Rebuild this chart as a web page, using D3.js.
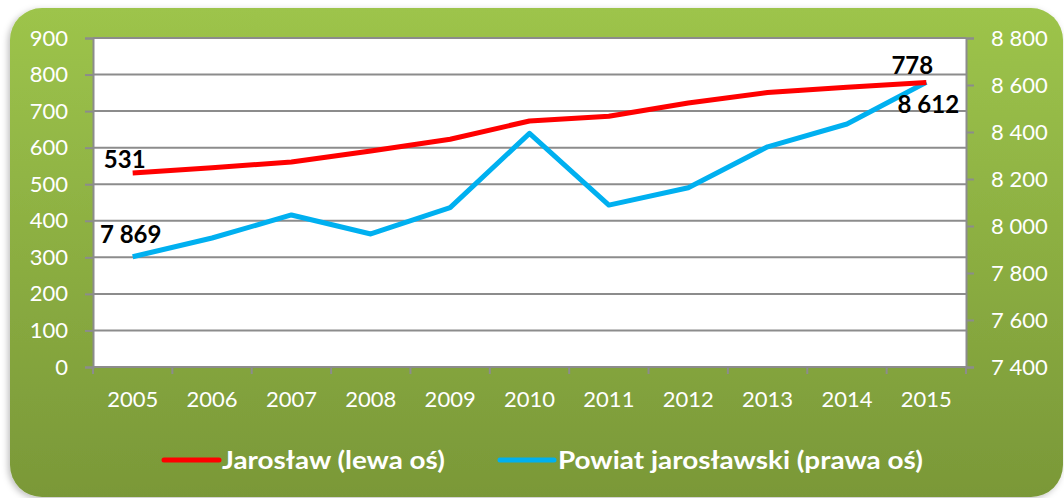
<!DOCTYPE html>
<html><head><meta charset="utf-8">
<script src="https://cdn.jsdelivr.net/npm/d3@7"></script>
<style>html,body{margin:0;padding:0;background:#fff;}svg{display:block;}</style>
</head><body>
<svg id="c" width="1064" height="498"></svg>
<script>
const years = ["2005","2006","2007","2008","2009","2010","2011","2012","2013","2014","2015"];
const jaroslaw = [531,545,561,591,623,673,686,722,751,765,778];
const powiat = [7869,7949,8047,7966,8078,8394,8089,8163,8337,8434,8612];
const leftTicks = [0,100,200,300,400,500,600,700,800,900];
const rightTicks = [7400,7600,7800,8000,8200,8400,8600,8800];
const seriesNames = ["Jarosław (lewa oś)","Powiat jarosławski (prawa oś)"];
const colors = ["#FF0000","#00B0F0"];

const svg = d3.select("#c");
const font = "Lato, 'Open Sans', sans-serif";
const defs = svg.append("defs");
const g = defs.append("linearGradient").attr("id","bg").attr("x1",0).attr("y1",0).attr("x2",0).attr("y2",1);
g.append("stop").attr("offset","0%").attr("stop-color","#9DC44B");
g.append("stop").attr("offset","100%").attr("stop-color","#7A9838");
const f = defs.append("filter").attr("id","sh").attr("x","-5%").attr("y","-5%").attr("width","110%").attr("height","110%");
f.append("feDropShadow").attr("dx",-2).attr("dy",2).attr("stdDeviation",3).attr("flood-color","#000").attr("flood-opacity",0.25);

svg.append("rect").attr("x",10).attr("y",8).attr("width",1053).attr("height",489).attr("rx",32).attr("ry",32)
  .attr("fill","url(#bg)").attr("filter","url(#sh)");

const L=93,R=966,T=38,B=367;
const x = d3.scaleBand().domain(years).range([L,R]);
const yL = d3.scaleLinear().domain([0,900]).range([B,T]);
const yR = d3.scaleLinear().domain([7400,8800]).range([B,T]);

svg.append("rect").attr("x",L).attr("y",T).attr("width",R-L).attr("height",B-T).attr("fill","#fff");

const gridC = "#8C8C8C";
svg.append("g").selectAll("line").data(leftTicks).join("line")
  .attr("x1",L).attr("x2",R).attr("y1",d=>yL(d)).attr("y2",d=>yL(d))
  .attr("stroke",gridC).attr("stroke-width",2);

const axL = svg.append("g").attr("transform",`translate(${L},0)`)
  .call(d3.axisLeft(yL).tickValues(leftTicks).tickSize(8).tickPadding(17).tickFormat(d3.format("d")));
const fmtR = d=>d3.format(",")(d).replace(/,/g," ");
const axR = svg.append("g").attr("transform",`translate(${R},0)`)
  .call(d3.axisRight(yR).tickValues(rightTicks).tickSize(8).tickPadding(17).tickFormat(fmtR));
const axB = svg.append("g").attr("transform",`translate(0,${B})`)
  .call(d3.axisBottom(x).tickSize(0).tickPadding(24));
svg.append("g").selectAll("line").data(years.concat(["end"])).join("line")
  .attr("x1",(d,i)=>L+i*x.step()).attr("x2",(d,i)=>L+i*x.step())
  .attr("y1",B).attr("y2",B+7).attr("stroke",gridC).attr("stroke-width",2);

[axL,axR,axB].forEach(a=>{
  a.selectAll("path.domain").attr("stroke",gridC).attr("stroke-width",2);
  a.selectAll(".tick line").attr("stroke",gridC).attr("stroke-width",2);
  a.selectAll("text").attr("fill","#fff").attr("font-family",font).attr("font-size",22);
});
axB.select("path.domain").remove();
svg.append("line").attr("x1",L).attr("x2",R).attr("y1",B).attr("y2",B).attr("stroke",gridC).attr("stroke-width",2);

const cx = d=>x(d)+x.bandwidth()/2;
const lineL = d3.line().x((d,i)=>cx(years[i])).y(d=>yL(d));
const lineR = d3.line().x((d,i)=>cx(years[i])).y(d=>yR(d));
svg.append("path").datum(powiat).attr("d",lineR).attr("fill","none").attr("stroke",colors[1]).attr("stroke-width",5).attr("stroke-linejoin","round");
svg.append("path").datum(jaroslaw).attr("d",lineL).attr("fill","none").attr("stroke",colors[0]).attr("stroke-width",5).attr("stroke-linejoin","round");

const fmtL = d=>d3.format(",")(d).replace(/,/g," ");
const labels = [
  {v:jaroslaw[0], x:cx(years[0])-8, y:yL(jaroslaw[0])-5},
  {v:powiat[0], x:cx(years[0])-2, y:yR(powiat[0])-14},
  {v:jaroslaw[10], x:cx(years[10])-14, y:yL(jaroslaw[10])-9},
  {v:powiat[10], x:cx(years[10])+2, y:yR(powiat[10])+31}
];
svg.append("g").selectAll("text").data(labels).join("text")
  .attr("x",d=>d.x).attr("y",d=>d.y).attr("text-anchor","middle")
  .attr("font-family",font).attr("font-weight","bold").attr("font-size",24).attr("fill","#000")
  .text(d=>fmtL(d.v));

const leg = [{x:164,w:55,tx:222,tw:223},{x:500,w:54,tx:558,tw:365}];
leg.forEach((l,i)=>{
  svg.append("line").attr("x1",l.x).attr("x2",l.x+l.w).attr("y1",460).attr("y2",460)
    .attr("stroke",colors[i]).attr("stroke-width",5).attr("stroke-linecap","round");
  svg.append("text").attr("x",l.tx).attr("y",469).attr("font-family",font).attr("font-weight","bold")
    .attr("font-size",25).attr("fill","#fff").attr("textLength",l.tw).attr("lengthAdjust","spacingAndGlyphs")
    .text(seriesNames[i]);
});
</script>
</body></html>
